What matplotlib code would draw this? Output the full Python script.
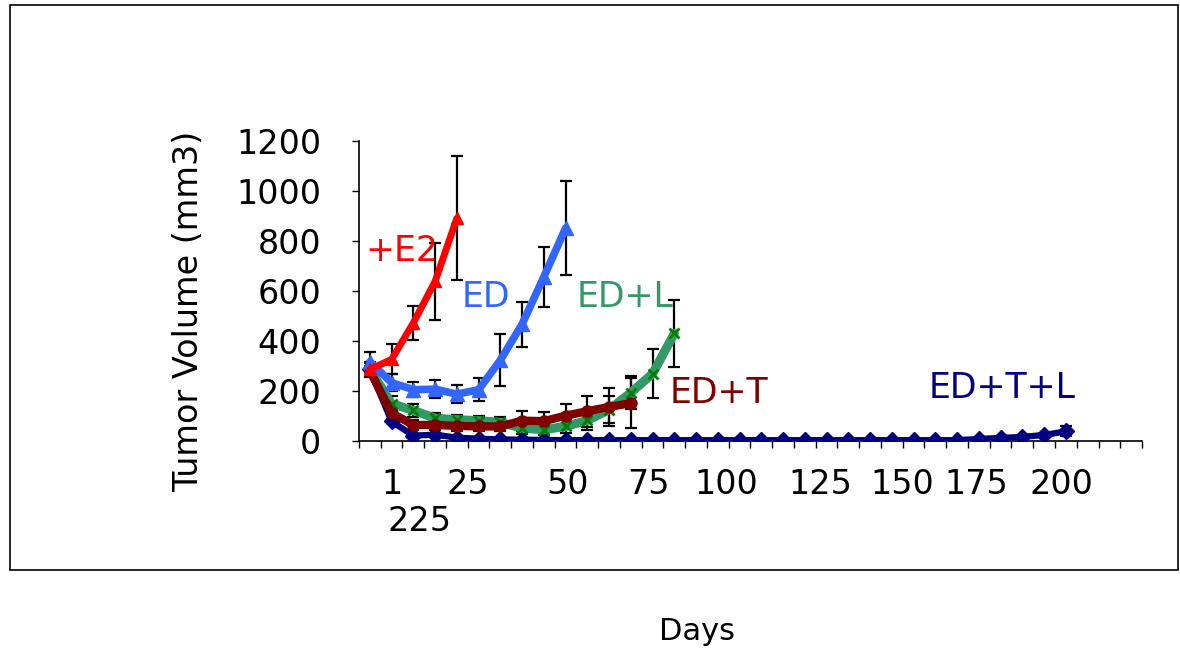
import numpy as np
import matplotlib.pyplot as plt
from matplotlib.patches import Rectangle

# Category positions on the x axis (Excel-style category axis, 36 slots)
n_slots = 36

# Series values (mm3) and error bars
e2_vals = [285, 325, 471, 637, 889]
e2_err = [30, 60, 68, 153, 248]

ed_vals = [315, 232, 204, 206, 186, 204, 322, 466, 655, 850]
ed_err = [40, 35, 30, 37, 35, 47, 105, 90, 120, 187]

edl_vals = [285, 148, 121, 90, 84, 80, 73, 50, 44, 57, 81, 124, 192, 268, 429]
edl_err = [25, 30, 25, 20, 20, 20, 20, 25, 20, 25, 40, 55, 65, 99, 135]

edt_vals = [280, 110, 63, 63, 59, 57, 57, 80, 78, 100, 118, 135, 150]
edt_err = [20, 25, 20, 20, 20, 20, 20, 40, 35, 48, 62, 75, 100]

edtl_vals = [285, 77, 20, 24, 12, 8, 5, 4, 3, 2, 2, 2, 2, 2, 2, 2, 2, 2, 2,
             2, 2, 2, 2, 2, 2, 2, 2, 2, 7, 11, 15, 23, 37]
edtl_err = [10, 8, 5, 5, 3, 3, 3, 2, 2, 2, 2, 2, 2, 2, 2, 2, 2, 2, 2,
            2, 2, 2, 2, 2, 2, 2, 2, 2, 3, 3, 4, 5, 20]

# Day labels under the axis (text, positioned in category units)
day_labels = ['1', '25', '50', '75', '100', '125', '150', '175', '200', '225']
day_label_x = [1.0, 4.5, 9.1, 12.8, 16.4, 20.7, 24.5, 27.9, 31.8, 2.3]
day_label_row = [0, 0, 0, 0, 0, 0, 0, 0, 0, 1]

fig = plt.figure(figsize=(11.8, 6.54), dpi=100)
fig.patches.append(Rectangle((0.0085, 0.128), 0.9895, 0.864, transform=fig.transFigure,
                             fill=False, edgecolor='black', linewidth=1.2))

ax = fig.add_axes([0.3042, 0.3262, 0.6636, 0.4587])


def draw(vals, err, color, marker, ms, lw, mcolor=None, mew=1.0):
    x = np.arange(len(vals))
    ax.errorbar(x, vals, yerr=err, fmt='none', ecolor='black', elinewidth=1.6,
                capsize=4, capthick=1.6, zorder=2)
    ax.plot(x, vals, color=color, linewidth=lw, marker=marker, markersize=ms,
            markerfacecolor=mcolor or color, markeredgecolor=mcolor or color,
            markeredgewidth=mew, solid_capstyle='round', zorder=3)


draw(edtl_vals, edtl_err, '#000080', 'D', 8, 4.5)
draw(edl_vals, edl_err, '#339966', 'x', 7, 6.5, mcolor='#008000', mew=2)
draw(edt_vals, edt_err, '#800000', 'o', 8, 6)
draw(ed_vals, ed_err, '#3366FF', '^', 10, 5.5)
draw(e2_vals, e2_err, '#FF0000', '^', 9, 5)

ax.set_xlim(-0.5, n_slots - 0.5)
ax.set_ylim(0, 1200)
ax.set_xticks(np.arange(-0.5, n_slots, 1.0))
ax.set_xticklabels([])
ax.set_yticks(np.arange(0, 1201, 200))
ax.tick_params(axis='x', direction='out', length=5, width=1)
ax.tick_params(axis='y', direction='out', length=5, width=1, labelsize=24, pad=22)
for s in ['top', 'right']:
    ax.spines[s].set_visible(False)
for s in ['left', 'bottom']:
    ax.spines[s].set_linewidth(1.2)
ax.set_ylabel('Tumor Volume (mm3)', fontsize=24)
ax.yaxis.set_label_coords(-0.196, 0.43)

for lab, xp, row in zip(day_labels, day_label_x, day_label_row):
    ax.text(xp, -175 - row * 150, lab, fontsize=24, ha='center', va='center',
            clip_on=False)

ax.text(-0.2, 760, '+E2', color='#FF0000', fontsize=25, va='center')
ax.text(4.2, 575, 'ED', color='#3366FF', fontsize=25, va='center')
ax.text(9.5, 575, 'ED+L', color='#339966', fontsize=25, va='center')
ax.text(13.8, 190, 'ED+T', color='#800000', fontsize=25, va='center')
ax.text(25.7, 210, 'ED+T+L', color='#000080', fontsize=25, va='center')

fig.text(697 / 1180, 1 - 632 / 654, 'Days', fontsize=22, ha='center', va='center')

fig.savefig('out.png', dpi=100)
